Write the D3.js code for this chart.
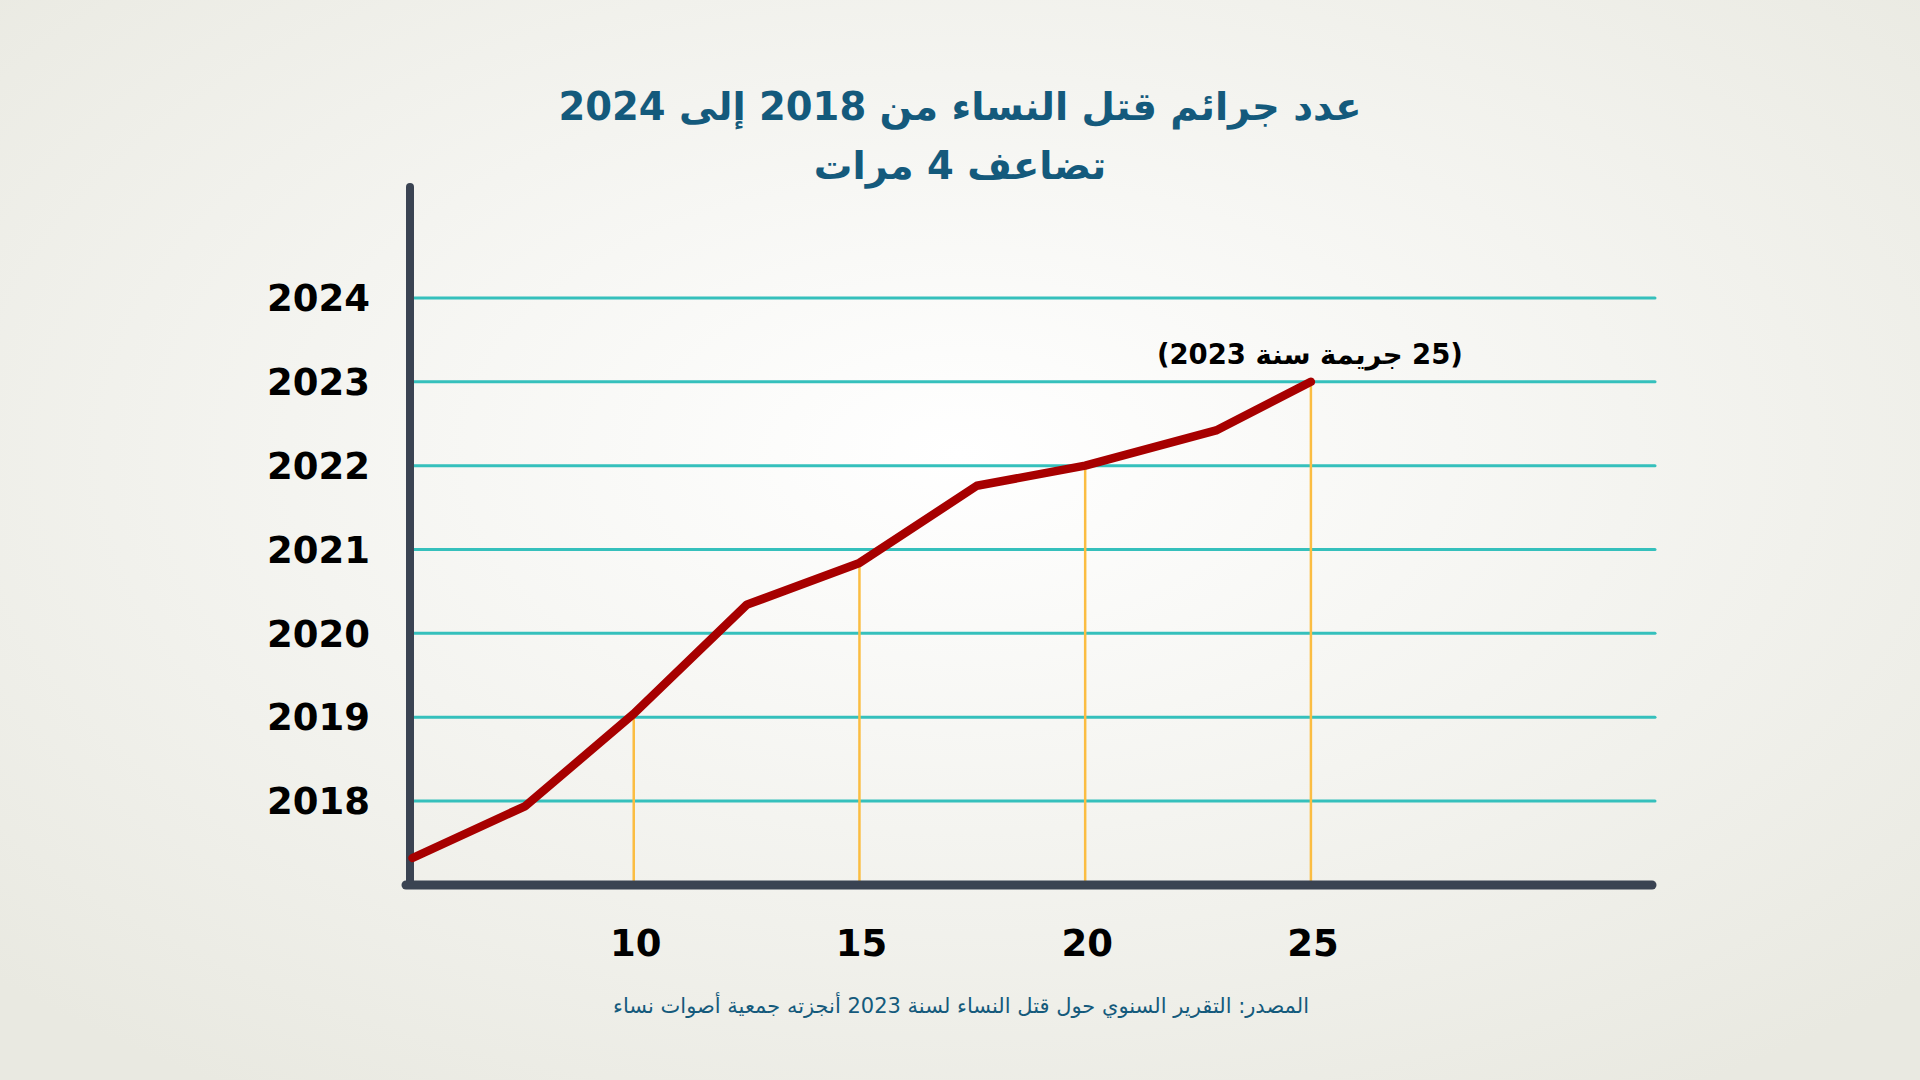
<!DOCTYPE html>
<html>
<head>
<meta charset="utf-8">
<script src="https://cdn.jsdelivr.net/npm/d3@7"></script>
<style>
html,body{margin:0;padding:0;overflow:hidden;}
svg{display:block;}
</style>
</head>
<body>
<svg id="chart" width="1920" height="1080"></svg>
<script>
// ---- data ----
const titleLines = ["عدد جرائم قتل النساء من 2018 إلى 2024", "تضاعف 4 مرات"];
const yearTicks = [2018, 2019, 2020, 2021, 2022, 2023, 2024];
const xTicks = [10, 15, 20, 25];
const crimeCounts = [5.1, 7.6, 10, 12.5, 15, 17.6, 20, 22.9, 25];
const yearPositions = [2017.32, 2017.94, 2019.04, 2020.34, 2020.84, 2021.76, 2022, 2022.42, 2023];
const guideX = [10, 15, 20, 25];
const annotationText = "(25 جريمة سنة 2023)";
const sourceText = "المصدر: التقرير السنوي حول قتل النساء لسنة 2023 أنجزته جمعية أصوات نساء";

const svg = d3.select("#chart");
const W = 1920, H = 1080;

// background radial gradient
const defs = svg.append("defs");
const rg = defs.append("radialGradient").attr("id","bg")
  .attr("cx","50%").attr("cy","42%").attr("r","70%");
rg.append("stop").attr("offset","0%").attr("stop-color","#ffffff");
rg.append("stop").attr("offset","100%").attr("stop-color","#e9e9e1");
svg.append("rect").attr("width",W).attr("height",H).attr("fill","url(#bg)");

// scales
const x = d3.scaleLinear().domain([5, 32.6]).range([408, 1654]);
const y = d3.scaleLinear().domain([2018, 2024]).range([801, 298]);
const axisY = 885;
const axisX = 410;

const pts = crimeCounts.map((c,i)=>({x:c, y:yearPositions[i]}));
const lineGen = d3.line().x(d=>x(d.x)).y(d=>y(d.y));

// horizontal gridlines (teal)
svg.append("g").selectAll("line").data(yearTicks).join("line")
  .attr("x1", axisX).attr("x2", 1655)
  .attr("y1", d=>y(d)).attr("y2", d=>y(d))
  .attr("stroke","#35c0bc").attr("stroke-width",3).attr("stroke-linecap","round");

// vertical guides (yellow) from line down to axis
function yAtX(v){
  for(let i=0;i<pts.length-1;i++){
    if(v>=pts[i].x && v<=pts[i+1].x){
      const t=(v-pts[i].x)/(pts[i+1].x-pts[i].x);
      return pts[i].y + t*(pts[i+1].y-pts[i].y);
    }
  }
  return pts[pts.length-1].y;
}
svg.append("g").selectAll("line").data(guideX).join("line")
  .attr("x1", d=>x(d)).attr("x2", d=>x(d))
  .attr("y1", d=>y(yAtX(d))).attr("y2", axisY)
  .attr("stroke","#fbbd42").attr("stroke-width",2.5);

// axes (thick dark)
svg.append("line").attr("x1",axisX).attr("x2",axisX).attr("y1",187).attr("y2",axisY)
  .attr("stroke","#3a4352").attr("stroke-width",8).attr("stroke-linecap","round");
svg.append("line").attr("x1",axisX-4).attr("x2",1652).attr("y1",axisY).attr("y2",axisY)
  .attr("stroke","#3a4352").attr("stroke-width",9).attr("stroke-linecap","round");

// data line (red)
svg.append("path").datum(pts).attr("d", lineGen)
  .attr("fill","none").attr("stroke","#a70000").attr("stroke-width",8.5)
  .attr("stroke-linejoin","round").attr("stroke-linecap","round");

// y tick labels
svg.append("g").selectAll("text").data(yearTicks).join("text")
  .attr("x", 370).attr("y", d=>y(d))
  .attr("dy","0.36em")
  .attr("text-anchor","end")
  .attr("font-family","'DejaVu Sans', sans-serif")
  .attr("font-weight","bold").attr("font-size",37)
  .attr("fill","#000")
  .text(d=>d);

// x tick labels
svg.append("g").selectAll("text").data(xTicks).join("text")
  .attr("x", d=>x(d)+2).attr("y", 943)
  .attr("dy","0.36em")
  .attr("text-anchor","middle")
  .attr("font-family","'DejaVu Sans', sans-serif")
  .attr("font-weight","bold").attr("font-size",37)
  .attr("fill","#000")
  .text(d=>d);

// title
svg.append("g").selectAll("text").data(titleLines).join("text")
  .attr("x", 960).attr("y", (d,i)=> i===0 ? 106 : 165)
  .attr("dy","0.36em")
  .attr("text-anchor","middle").attr("direction","rtl")
  .attr("font-family","'DejaVu Sans', sans-serif")
  .attr("font-weight","bold").attr("font-size",38.5)
  .attr("fill","#145a7c")
  .text(d=>d);

// annotation
svg.append("text")
  .attr("x", x(25)-1).attr("y", 354)
  .attr("dy","0.36em")
  .attr("text-anchor","middle").attr("direction","rtl")
  .attr("font-family","'DejaVu Sans', sans-serif")
  .attr("font-weight","bold").attr("font-size",27.5)
  .attr("fill","#000")
  .text(annotationText);

// source
svg.append("text")
  .attr("x", 961).attr("y", 1005)
  .attr("dy","0.36em")
  .attr("text-anchor","middle").attr("direction","rtl")
  .attr("font-family","'DejaVu Sans', sans-serif")
  .attr("font-size",21)
  .attr("fill","#145a7c")
  .text(sourceText);
</script>
</body>
</html>
